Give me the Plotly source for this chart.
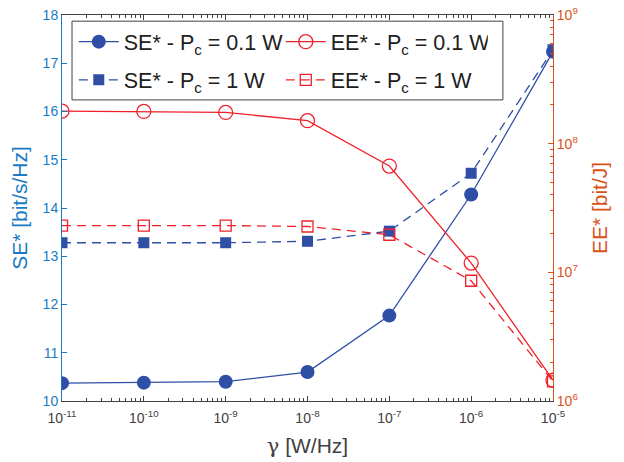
import plotly.graph_objects as go

gamma = [1e-11, 1e-10, 1e-9, 1e-8, 1e-7, 1e-6, 1e-5]
se_p01 = [10.37, 10.38, 10.40, 10.60, 11.77, 14.28, 17.24]
se_p1 = [13.28, 13.28, 13.28, 13.31, 13.52, 14.72, 17.28]
ee_p01 = [1.79e8, 1.78e8, 1.75e8, 1.51e8, 6.7e7, 1.18e7, 1.45e6]
ee_p1 = [2.31e7, 2.31e7, 2.31e7, 2.27e7, 1.96e7, 8.6e6, 1.42e6]

x_tickvals = [1e-11, 1e-10, 1e-9, 1e-8, 1e-7, 1e-6, 1e-5]
x_ticktext = ["10<sup>-11</sup>", "10<sup>-10</sup>", "10<sup>-9</sup>", "10<sup>-8</sup>",
              "10<sup>-7</sup>", "10<sup>-6</sup>", "10<sup>-5</sup>"]
y2_tickvals = [1e6, 1e7, 1e8, 1e9]
y2_ticktext = ["10<sup>6</sup>", "10<sup>7</sup>", "10<sup>8</sup>", "10<sup>9</sup>"]

BLUE = "#2F4FA6"
RED = "#F0202A"
AX_BLUE = "#1A7AC4"
AX_ORANGE = "#D95319"
FONT = "Liberation Sans, Arial, sans-serif"

fig = go.Figure()
fig.add_trace(go.Scatter(x=gamma, y=se_p01, name="SE* - P<sub>c</sub> = 0.1 W", mode="lines+markers",
                         line=dict(color=BLUE, width=1.3),
                         marker=dict(symbol="circle", size=14, color=BLUE), yaxis="y", legend="legend"))
fig.add_trace(go.Scatter(x=gamma, y=ee_p01, name="EE* - P<sub>c</sub> = 0.1 W", mode="lines+markers",
                         line=dict(color=RED, width=1.3),
                         marker=dict(symbol="circle-open", size=14, color=RED, line=dict(width=1.3)),
                         yaxis="y2", legend="legend"))
fig.add_trace(go.Scatter(x=gamma, y=se_p1, name="SE* - P<sub>c</sub> = 1 W", mode="lines+markers",
                         line=dict(color=BLUE, width=1.3, dash="9px,6px"),
                         marker=dict(symbol="square", size=11, color=BLUE), yaxis="y", legend="legend2"))
fig.add_trace(go.Scatter(x=gamma, y=ee_p1, name="EE* - P<sub>c</sub> = 1 W", mode="lines+markers",
                         line=dict(color=RED, width=1.3, dash="9px,6px"),
                         marker=dict(symbol="square-open", size=11, color=RED, line=dict(width=1.3)),
                         yaxis="y2", legend="legend2"))

leg_common = dict(xanchor="left", yanchor="top", orientation="h",
                  entrywidth=152, entrywidthmode="pixels", itemwidth=40,
                  bgcolor="rgba(0,0,0,0)", borderwidth=0,
                  font=dict(family=FONT, size=21.5, color="#202020"))

fig.update_layout(
    width=624, height=462,
    margin=dict(l=54, r=79, t=7, b=69),
    paper_bgcolor="white", plot_bgcolor="white",
    font=dict(family=FONT, size=14, color="#404040"),
    showlegend=True,
    legend=dict(x=0.024, y=0.984, **leg_common),
    legend2=dict(x=0.024, y=0.885, **leg_common),
    shapes=[dict(type="rect", xref="paper", yref="paper", x0=0.0204, x1=0.898, y0=0.780, y1=0.984,
                 line=dict(color="#404040", width=1), fillcolor="white", layer="above")],
    xaxis=dict(type="log", range=[-11, -5], tickvals=x_tickvals, ticktext=x_ticktext,
               ticks="inside", ticklen=5, tickcolor="#404040", showline=True, linecolor="#404040",
               linewidth=1, mirror="ticks", showgrid=False, zeroline=False, automargin=False,
               ticklabeloverflow="allow",
               minor=dict(ticks="inside", ticklen=3, tickcolor="#404040", showgrid=False, dtick="D1"),
               tickfont=dict(size=14, color="#404040"), ticklabelstandoff=4,
               title=dict(text="<span style=\"font-family:DejaVu Serif\">γ</span> [W/Hz]",
                          font=dict(size=21, color="#404040"), standoff=13)),
    yaxis=dict(range=[10, 18], dtick=1, ticks="inside", ticklen=5, tickcolor=AX_BLUE,
               showline=True, linecolor=AX_BLUE, linewidth=1, showgrid=False, zeroline=False,
               automargin=False, ticklabeloverflow="allow",
               tickfont=dict(size=14, color=AX_BLUE),
               title=dict(text="SE* [bit/s/Hz]", font=dict(size=21, color=AX_BLUE), standoff=10)),
    yaxis2=dict(type="log", range=[6, 9], overlaying="y", side="right",
                tickvals=y2_tickvals, ticktext=y2_ticktext, automargin=False,
                ticklabeloverflow="allow",
                ticks="inside", ticklen=5, tickcolor=AX_ORANGE, showline=True, linecolor=AX_ORANGE,
                linewidth=1, showgrid=False, zeroline=False,
                minor=dict(ticks="inside", ticklen=3, tickcolor=AX_ORANGE, showgrid=False, dtick="D1"),
                tickfont=dict(size=14, color=AX_ORANGE),
                title=dict(text="EE* [bit/J]", font=dict(size=21, color=AX_ORANGE), standoff=14)),
)

fig.write_html("out.html")
